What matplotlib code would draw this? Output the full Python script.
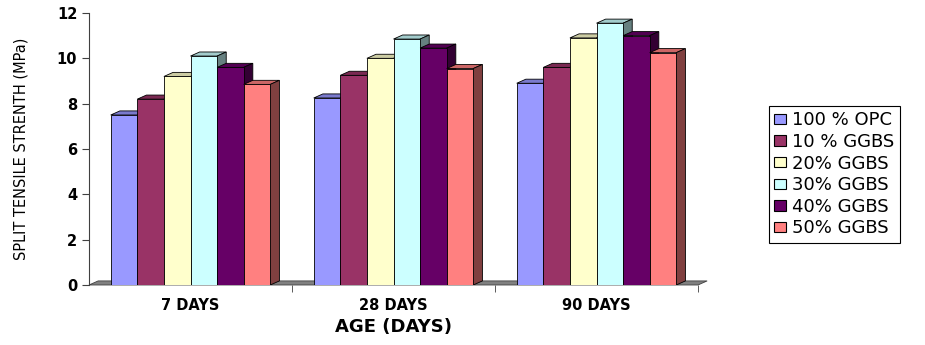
import matplotlib
matplotlib.use("Agg")
import matplotlib.pyplot as plt
from matplotlib.patches import Polygon, Patch
import numpy as np

ages = ["7 DAYS", "28 DAYS", "90 DAYS"]
mixes = ["100 % OPC", "10 % GGBS", "20% GGBS", "30% GGBS", "40% GGBS", "50% GGBS"]
opc100 = [7.5, 8.25, 8.9]
ggbs10 = [8.2, 9.25, 9.6]
ggbs20 = [9.2, 10.0, 10.9]
ggbs30 = [10.1, 10.85, 11.55]
ggbs40 = [9.6, 10.45, 11.0]
ggbs50 = [8.85, 9.55, 10.25]
series = [opc100, ggbs10, ggbs20, ggbs30, ggbs40, ggbs50]
colors = ["#9999FF", "#993366", "#FFFFCC", "#CCFFFF", "#660066", "#FF8080"]

plt.rcParams['font.family'] = ['DejaVu Sans']

fig = plt.figure(figsize=(9.25, 3.45), dpi=100)
ax = fig.add_axes([89 / 925, 60 / 345, 609 / 925, 272 / 345])

bar_w = 0.131
dx, dy = 0.045, 0.18  # fake 3d depth


def shade(c, f):
    rgb = np.array(matplotlib.colors.to_rgb(c))
    return tuple(rgb * f)


# floor strip
ax.add_patch(Polygon([(-0.5, 0), (2.5, 0), (2.5 + dx, dy), (-0.5 + dx, dy)],
                     closed=True, facecolor="#808080", edgecolor="#404040",
                     lw=0.6, zorder=1, clip_on=False))

x = np.arange(len(ages))
for g in range(len(ages)):
    for i, vals in enumerate(series):
        left = x[g] + (i - 3) * bar_w
        right = left + bar_w
        h = vals[g]
        c = colors[i]
        z = 2 + i * 0.01 + g
        ax.add_patch(Polygon([(left, h), (right, h), (right + dx, h + dy), (left + dx, h + dy)],
                             closed=True, facecolor=shade(c, 0.8), edgecolor="black",
                             lw=0.6, zorder=z))
        ax.add_patch(Polygon([(right, 0), (right + dx, dy), (right + dx, h + dy), (right, h)],
                             closed=True, facecolor=shade(c, 0.5), edgecolor="black",
                             lw=0.6, zorder=z))
        ax.add_patch(Polygon([(left, 0), (right, 0), (right, h), (left, h)],
                             closed=True, facecolor=c, edgecolor="black",
                             lw=0.6, zorder=z + 0.005))

ax.set_xlim(-0.5, 2.5)
ax.set_ylim(0, 12)
ax.set_yticks(np.arange(0, 13, 2))
ax.set_xticks(x)
ax.set_xticklabels(ages, fontweight="bold", fontsize=10.5)
ax.set_xticks([0.5, 1.5, 2.5], minor=True)
ax.tick_params(axis="x", which="major", length=0, pad=9)
ax.tick_params(axis="x", which="minor", length=5, color="#404040")
ax.tick_params(axis="y", length=5, color="#404040", labelsize=10.5)
for t in ax.get_yticklabels():
    t.set_fontweight("bold")
for s in ["top", "right", "bottom"]:
    ax.spines[s].set_visible(False)
ax.spines["left"].set_color("#404040")

ax.set_ylabel("SPLIT TENSILE STRENTH (MPa)", fontsize=10.5, labelpad=20)
ax.set_xlabel("AGE (DAYS)", fontweight="bold", fontsize=13, labelpad=4)

handles = [Patch(facecolor=c, edgecolor="black", lw=0.8) for c in colors]
leg = fig.legend(handles, mixes, loc="upper left", bbox_to_anchor=(769 / 925, 1 - 106 / 345),
                 fontsize=13, frameon=True, fancybox=False, handlelength=0.65,
                 handleheight=0.5, handletextpad=0.35, labelspacing=0.2,
                 borderpad=0.3, borderaxespad=0, framealpha=1)
leg.get_frame().set_edgecolor("black")
leg.get_frame().set_linewidth(0.8)

fig.savefig("out.png", dpi=100)
